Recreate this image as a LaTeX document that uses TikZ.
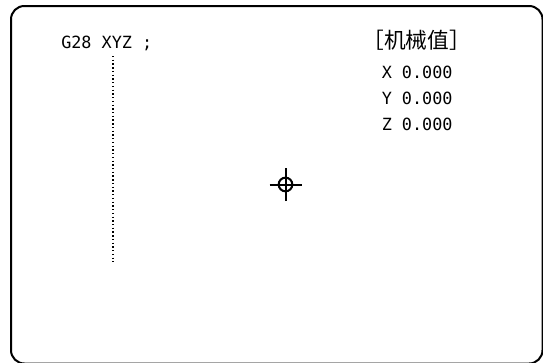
\documentclass[tikz,border=0pt]{standalone}
\usepackage{fontspec}
\newfontfamily\scrfont{DejaVu Sans Mono}
\newfontfamily\cjkfont{Noto Sans CJK SC}

\begin{document}
\begin{tikzpicture}[
  x=0.75pt, y=-0.75pt,
  screen/.style={line width=1.5pt, rounded corners=10pt},
  readout/.style={inner sep=0pt, anchor=base west,
                  font=\scrfont\fontsize{12.6}{15}\selectfont},
  heading/.style={inner sep=0pt, anchor=base west,
                  font=\cjkfont\fontsize{16.3}{19}\selectfont},
  trace/.style={line width=1pt, dash pattern=on 1pt off 1.8pt},
  target/.style={circle, draw, line width=1.5pt, minimum size=10.3pt, inner sep=0pt}
]
\useasboundingbox (0,0) rectangle (543,362);

% Screen frame
\draw[screen] (11,6) rectangle (542.5,363.5);

% Program line and tool path
\node[readout] at (61,48.5) (cmd) {G28 XYZ ;};
\coordinate (ptop) at (113,56);
\coordinate (pend) at (113,262);
\draw[trace] (ptop) -- (pend);

% Machine position
\node[heading] at (362,48.5) (hdr)  {［机械值］};
\node[readout] at (381.5,78) (posx) {X 0.000};
\node[readout] at (381.5,104) (posy) {Y 0.000};
\node[readout] at (381.5,130) (posz) {Z 0.000};

% Reference point mark
\node[target] at (285.5,184.5) (cross) {};
\draw[line width=1.5pt] ([xshift=-12pt]cross.center) -- ([xshift=12pt]cross.center);
\draw[line width=1.5pt] ([yshift=-12.4pt]cross.center) -- ([yshift=12.4pt]cross.center);
\end{tikzpicture}
\end{document}
